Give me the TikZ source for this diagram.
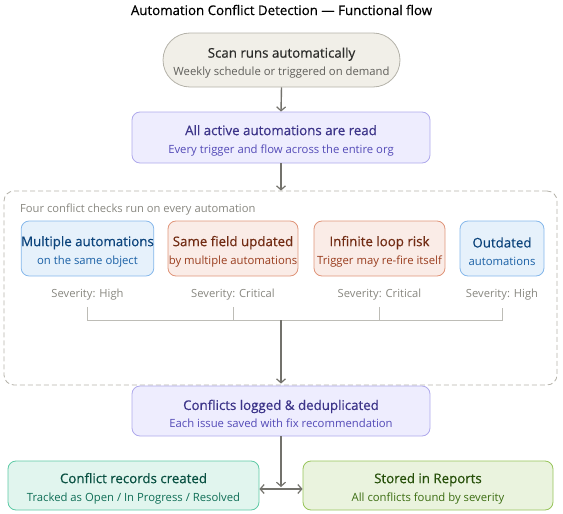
\documentclass[tikz,border=0pt]{standalone}
\usepackage{fontspec}
\setmainfont{Open Sans}
\newfontfamily\semib{Open Sans}[FakeBold=0.5]
\usetikzlibrary{arrows.meta,positioning}
\definecolor{bgF}{HTML}{F1EFE8}\definecolor{bgD}{HTML}{B4B2A9}\definecolor{bgT}{HTML}{2C2C2A}\definecolor{bgS}{HTML}{5F5E5A}
\definecolor{puF}{HTML}{EEEDFE}\definecolor{puD}{HTML}{AFA9EC}\definecolor{puT}{HTML}{3C3489}\definecolor{puS}{HTML}{534AB7}
\definecolor{blF}{HTML}{E6F1FB}\definecolor{blD}{HTML}{85B7EB}\definecolor{blT}{HTML}{0C447C}\definecolor{blS}{HTML}{185FA5}
\definecolor{coF}{HTML}{FAECE7}\definecolor{coD}{HTML}{E0957A}\definecolor{coT}{HTML}{712B13}\definecolor{coS}{HTML}{993C1D}
\definecolor{teF}{HTML}{E1F5EE}\definecolor{teD}{HTML}{5DCAA5}\definecolor{teT}{HTML}{085041}\definecolor{teS}{HTML}{0F6E56}
\definecolor{grF}{HTML}{EAF3DE}\definecolor{grD}{HTML}{97C459}\definecolor{grT}{HTML}{27500A}\definecolor{grS}{HTML}{3B6D11}
\definecolor{arr}{HTML}{73726C}\definecolor{sev}{HTML}{888780}\definecolor{brn}{HTML}{BDBCB6}
\newcommand{\twol}[4]{{\semib\fontsize{13.3}{16}\selectfont\color{#3}\rule{0pt}{16pt}#1}\\[6pt]{\fontsize{11.3}{13}\selectfont\color{#4}#2}}
\begin{document}
\begin{tikzpicture}[x=1pt,y=-1pt,
  box/.style={draw, line width=0.8pt, rounded corners=8pt, align=center, inner sep=0pt},
  flow/.style={draw=arr, line width=1.4pt, -{Straight Barb[length=4pt,width=9pt,line width=1.2pt]}},
  branch/.style={draw=brn, line width=1pt},
  sevlab/.style={font=\fontsize{11.2}{13}\selectfont, text=sev, inner sep=1pt}]
\useasboundingbox (0,0) rectangle (563,514);
\node[font=\semib\fontsize{13.3}{15}\selectfont, text=black] (title) at (281.5,10) {Automation Conflict Detection — Functional flow};
\node[box, fill=bgF, draw=bgD, rounded corners=27pt, minimum width=237pt, minimum height=54pt] (scan) at (281.5,60)
  {\twol{Scan runs automatically}{Weekly schedule or triggered on demand}{bgT}{bgS}};
\node[box, fill=puF, draw=puD, minimum width=298pt, minimum height=51pt] (read) at (281,137.5)
  {\twol{All active automations are read}{Every trigger and flow across the entire org}{puT}{puS}};
\node[draw=bgD, dashed, dash pattern=on 5pt off 3pt, line width=0.8pt, rounded corners=10pt, minimum width=553pt, minimum height=194pt, inner sep=0pt] (grp) at (280.5,288) {};
\node[anchor=west, font=\fontsize{11.2}{13}\selectfont, text=sev, inner sep=0pt] (glab) at (20,210) {Four conflict checks run on every automation};
\node[box, fill=blF, draw=blD, minimum width=131pt, minimum height=55pt] (b1) at (87.5,248.5)
  {\twol{Multiple automations}{on the same object}{blT}{blS}};
\node[box, fill=coF, draw=coD, minimum width=130pt, minimum height=55pt] (b2) at (233,248.5)
  {\twol{Same field updated}{by multiple automations}{coT}{coS}};
\node[box, fill=coF, draw=coD, minimum width=131pt, minimum height=55pt] (b3) at (379.5,248.5)
  {\twol{Infinite loop risk}{Trigger may re-fire itself}{coT}{coS}};
\node[box, fill=blF, draw=blD, minimum width=84pt, minimum height=55pt] (b4) at (502,248.5)
  {\twol{Outdated}{automations}{blT}{blS}};
\node[sevlab] (s1) at (87.5,295) {Severity: High};
\node[sevlab] (s2) at (233,295) {Severity: Critical};
\node[sevlab] (s3) at (379.5,295) {Severity: Critical};
\node[sevlab] (s4) at (502,295) {Severity: High};
\coordinate (h1) at (87.5,320);
\coordinate (h4) at (502,320);
\coordinate (hub) at (281,320);
\node[box, fill=puF, draw=puD, minimum width=298pt, minimum height=50pt] (conf) at (281,411)
  {\twol{Conflicts logged \& deduplicated}{Each issue saved with fix recommendation}{puT}{puS}};
\node[box, fill=teF, draw=teD, minimum width=251pt, minimum height=49pt] (rec) at (133.5,485.5)
  {\twol{Conflict records created}{Tracked as Open / In Progress / Resolved}{teT}{teS}};
\node[box, fill=grF, draw=grD, minimum width=250pt, minimum height=49pt] (rep) at (428,485.5)
  {\twol{Stored in Reports}{All conflicts found by severity}{grT}{grS}};
\coordinate (split) at (281,487);
% connectors
\draw[flow] (scan.south) -- (read.north);
\draw[flow] (read.south) -- (grp.north -| read.south);
\draw[branch] (s1.south) ++(0,5) -- (h1) -- (h4) -- ++(0,-12);
\draw[branch] (s2.south) ++(0,5) -- (s2.south |- hub);
\draw[branch] (s3.south) ++(0,5) -- (s3.south |- hub);
\draw[flow] (hub) -- ([yshift=2pt]conf.north);
\draw[flow] (conf.south) -- (split);
\draw[draw=arr, line width=1.4pt, {Straight Barb[length=4pt,width=9pt,line width=1.2pt]}-{Straight Barb[length=4pt,width=9pt,line width=1.2pt]}] (rec.east |- 0,489) -- (rep.west |- 0,489);
\end{tikzpicture}
\end{document}
